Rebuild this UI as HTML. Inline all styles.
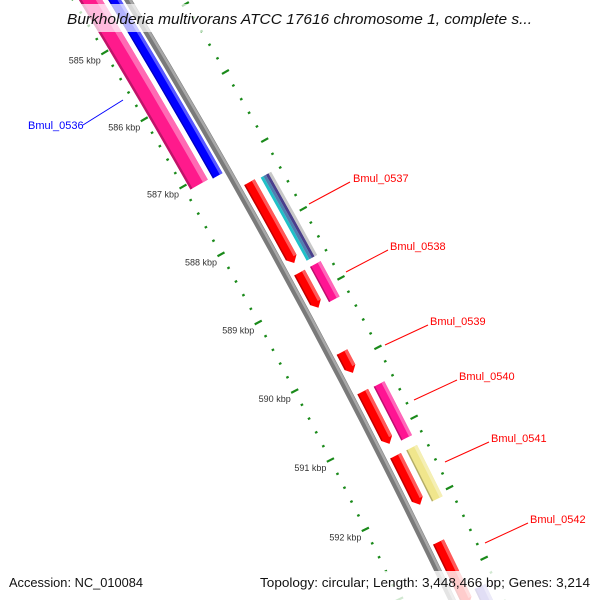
<!DOCTYPE html>
<html><head><meta charset="utf-8"><style>
html,body{margin:0;padding:0;background:#fff;width:600px;height:600px;overflow:hidden;}
svg{display:block;font-family:"Liberation Sans",sans-serif;overflow:hidden;}
</style></head><body>
<svg id="map" width="600" height="600" viewBox="0 0 600 600" xmlns="http://www.w3.org/2000/svg">
<defs><clipPath id="frame"><rect x="0" y="0" width="600" height="600"/></clipPath></defs>
<g clip-path="url(#frame)">
<g id="rings"></g>
<g id="ticks"></g>
<g id="labels"></g>
<rect x="62" y="4" width="476" height="28" fill="#fff" opacity="0.7"/>
<text x="67" y="24" font-size="14.5" font-style="italic" fill="#111" textLength="465" lengthAdjust="spacingAndGlyphs">Burkholderia multivorans ATCC 17616 chromosome 1, complete s...</text>
<rect x="4" y="571" width="146" height="29" fill="#fff" opacity="0.8"/>
<rect x="255" y="571" width="345" height="29" fill="#fff" opacity="0.8"/>
<text x="9" y="587" font-size="13" fill="#111" textLength="134" lengthAdjust="spacingAndGlyphs">Accession: NC_010084</text>
<text x="260" y="587" font-size="13" fill="#111" textLength="330" lengthAdjust="spacingAndGlyphs">Topology: circular; Length: 3,448,466 bp; Genes: 3,214</text>
</g>
</svg>
<script>
// ---- data (kbp) ----
const featNames  = ['bmul-0536-a','bmul-0536-b','bmul-0537','bmul-0537-cog','bmul-0538','bmul-0538-cog','bmul-0539','bmul-0540','bmul-0540-cog','bmul-0541','bmul-0541-cog','bmul-0542','bmul-0543-cog'];
const featStart  = [582.0, 582.0, 587.37, 587.39, 588.69, 588.69, 589.84, 590.41, 590.42, 591.33, 591.33, 592.56, 593.30];
const featEnd    = [587.08, 587.10, 588.55, 588.60, 589.20, 589.20, 590.14, 591.16, 591.19, 592.03, 592.06, 593.45, 594.5];
const featRing   = ['pink','blue','red','cog','red','cog','red','red','cog','red','cog','red','cog'];
const featColor  = ['#ff1a8c','#0000ff','#ff0000','multi','#ff0000','#ff1493','#ff0000','#ff0000','#ff1493','#ff0000','#f0e68c','#ff0000','#6a5acd'];
const featArrow  = [false,false,true,false,true,false,true,true,false,true,false,true,false];
const tickStartK = 583, tickEndK = 595;
const labelTexts = ['Bmul_0536','Bmul_0537','Bmul_0538','Bmul_0539','Bmul_0540','Bmul_0541','Bmul_0542'];
// ---- geometry ----
const CX=-5862, CY=3622, R=7000;
const ringR = {pink:[-42,-22], blue:[-17,-6], red:[7,19], cog:[25,37]};
const NS='http://www.w3.org/2000/svg';
function ang(k){return (-29.61+(k-587)*0.64)*Math.PI/180;}
function pt(k,r){const a=ang(k);return [CX+(R+r)*Math.cos(a), CY+(R+r)*Math.sin(a)];}
function f(p){return p[0].toFixed(2)+' '+p[1].toFixed(2);}
function band(k1,k2,r1,r2,arrow){
  const h=arrow?0.08:0, mid=(r1+r2)/2;
  let d='M'+f(pt(k1,r2))+' A'+(R+r2)+' '+(R+r2)+' 0 0 1 '+f(pt(k2-h,r2));
  if(arrow) d+=' L'+f(pt(k2,mid));
  d+=' L'+f(pt(k2-h,r1))+' A'+(R+r1)+' '+(R+r1)+' 0 0 0 '+f(pt(k1,r1))+' Z';
  return d;
}
function mk(tag,attrs,parent){const e=document.createElementNS(NS,tag);for(const k in attrs)e.setAttribute(k,attrs[k]);parent.appendChild(e);return e;}
function shade(c,amt){const n=parseInt(c.slice(1),16);let r=n>>16,g=(n>>8)&255,b=n&255;
  const m=x=>Math.max(0,Math.min(255,Math.round(amt>0?x+(255-x)*amt:x*(1+amt))));
  return '#'+((1<<24)+(m(r)<<16)+(m(g)<<8)+m(b)).toString(16).slice(1);}
const rings=document.getElementById('rings');
// backbone
let bb=mk('path',{d:band(582,595,-3.5,3.5,false),fill:'#7a7a7a'},rings);


let bbl=mk('path',{d:band(582,595,0.5,3,false),fill:'#a8a8a8'},rings);


// features
featStart.forEach((s,i)=>{
  const e=featEnd[i], rr=ringR[featRing[i]], g=mk('g',{},rings);
  
  
  if(featColor[i]==='multi'){
    const cols=['#20c0c8','#4f7fb0','#4a3f8c','#c8c8c8'];
    const w=(rr[1]-rr[0])/4;
    cols.forEach((c,j)=>mk('path',{d:band(s,e,rr[0]+j*w,rr[0]+(j+1)*w,false),fill:c},g));
  } else {
    const c=featColor[i], w=rr[1]-rr[0];
    mk('path',{d:band(s,e,rr[0],rr[1],featArrow[i]),fill:c},g);
    mk('path',{d:band(s,featArrow[i]?e-0.08:e,rr[1]-w*0.28,rr[1],false),fill:shade(c,0.35)},g);
    mk('path',{d:band(s,featArrow[i]?e-0.08:e,rr[0],rr[0]+w*0.12,false),fill:shade(c,-0.25)},g);
  }
});
// ticks
const ticks=document.getElementById('ticks');
for(let n=0;n<=Math.round((tickEndK-tickStartK)/0.2);n++){
  const k=tickStartK+n*0.2, major=Math.abs(k-Math.round(k))<1e-6;
  [-47,47].forEach(r=>{
    const L=major?4:1.3;
    const l=mk('line',{x1:pt(k,r-L)[0],y1:pt(k,r-L)[1],x2:pt(k,r+L)[0],y2:pt(k,r+L)[1],stroke:'#1a8a1a','stroke-width':2.2},ticks);
    
    
  });
  if(major){
    const p=pt(k,-47);
    const t=mk('text',{x:p[0]-4,y:p[1]+11,'font-size':9,fill:'#333','text-anchor':'end'},ticks);
    t.textContent=Math.round(k)+' kbp';
    
    
  }
}
// labels (layout positions)
const labPos=[[28,129,83,125,123,100,'#0000ff'],[353,182,350,182,309,204,'#ff0000'],[390,250,388,250,346,272,'#ff0000'],
  [430,325,428,325,385,345,'#ff0000'],[459,380,457,380,414,400,'#ff0000'],[491,442,489,442,445,462,'#ff0000'],[530,523,528,523,485,543,'#ff0000']];
const labels=document.getElementById('labels');
labelTexts.forEach((s,i)=>{
  const p=labPos[i];
  const ln=mk('line',{x1:p[2],y1:p[3],x2:p[4],y2:p[5],stroke:p[6],'stroke-width':1},labels);
  
  
  const t=mk('text',{x:p[0],y:p[1],'font-size':11,fill:p[6]},labels);
  t.textContent=s;
  
  
});
</script>
</body></html>
